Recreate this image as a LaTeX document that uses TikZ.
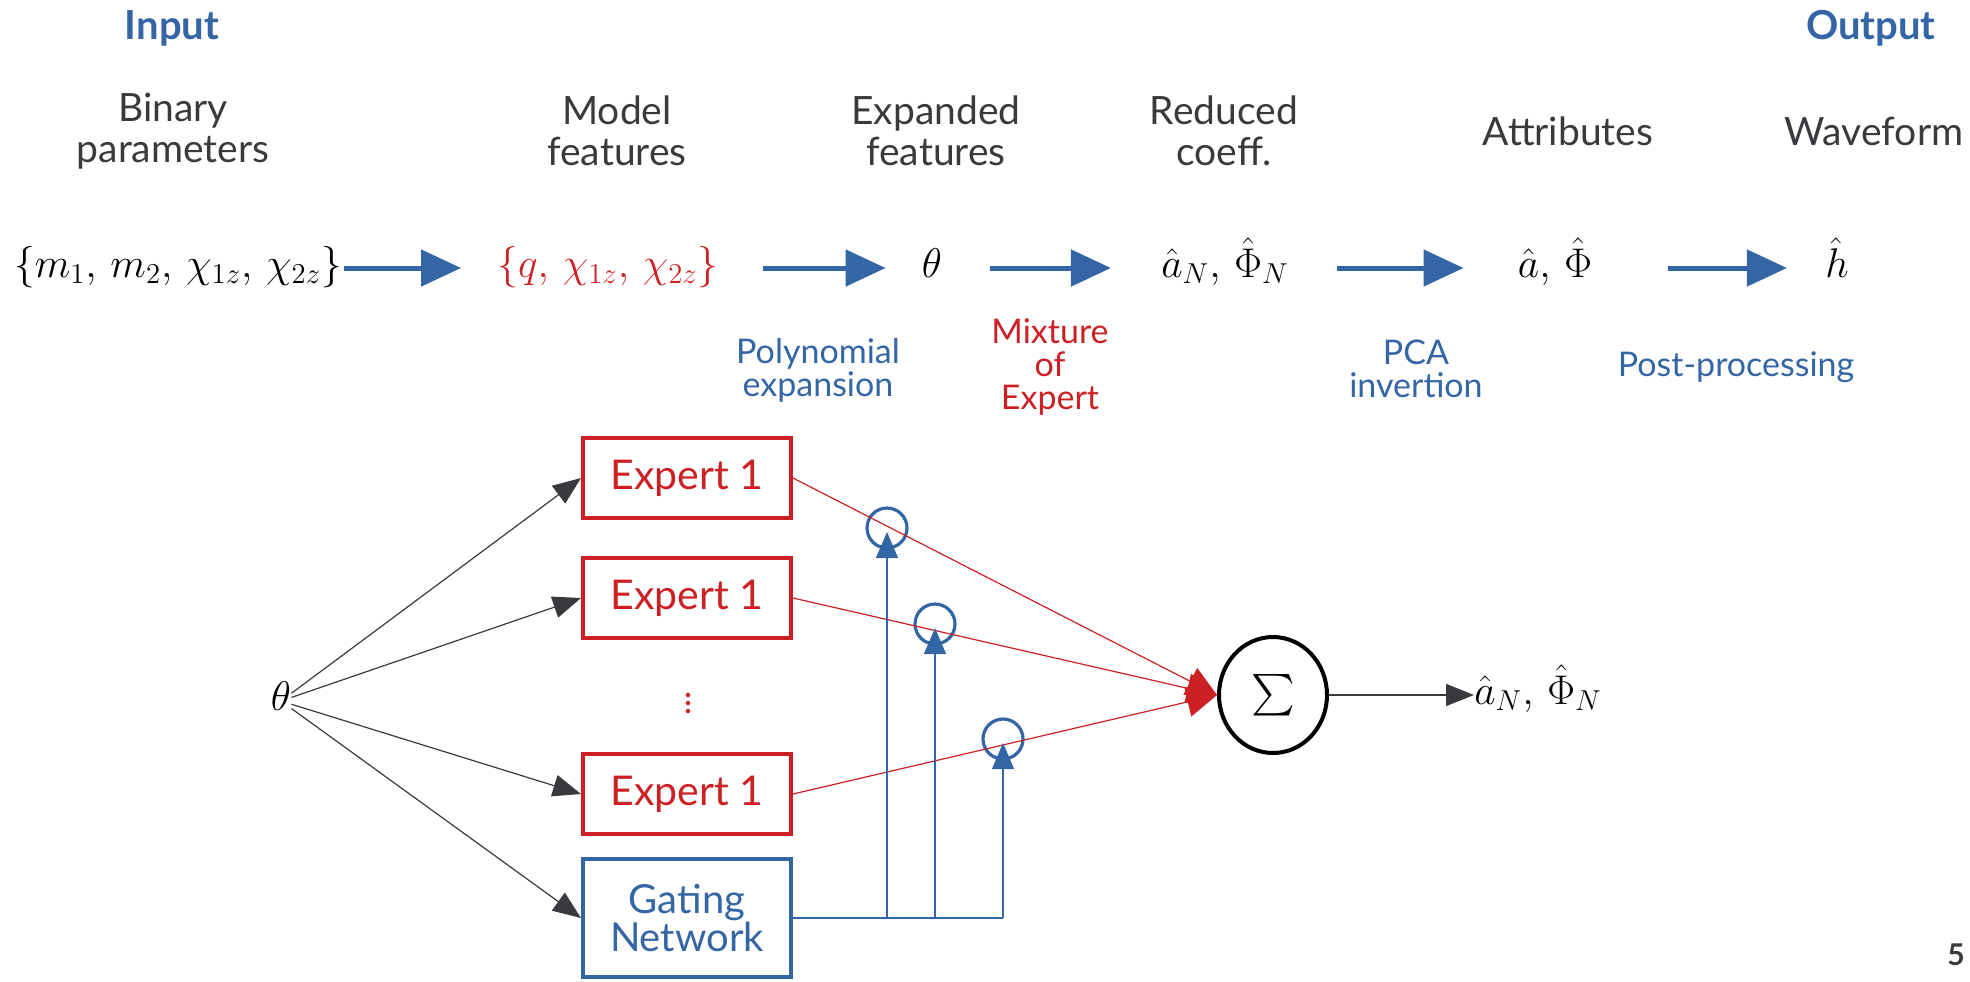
\documentclass[tikz,border=0pt]{standalone}
\usepackage{amsmath}
\usepackage{fontspec}
\setmainfont{Lato}
\usetikzlibrary{arrows.meta,shapes.geometric}
\definecolor{slideblue}{RGB}{52,101,164}
\definecolor{slidered}{RGB}{204,32,36}
\definecolor{slidegray}{RGB}{58,58,62}

\begin{document}
\begin{tikzpicture}[x=0.5pt,y=-0.5pt,
		head/.style={font=\fontsize{20}{22}\selectfont\bfseries, text=slideblue},
		title/.style={font=\fontsize{19.5}{20.5}\selectfont, text=slidegray, align=center},
		math/.style={font=\fontsize{21}{25}\selectfont, text height=15pt, text depth=6pt, inner sep=0pt},
		flow/.style={draw=slideblue, line width=2.5pt, -{Triangle[length=20pt,width=18pt]}},
		stage/.style={font=\fontsize{17}{16.5}\selectfont, text=slideblue, align=center},
		expertbox/.style={draw=slidered, line width=2pt, text=slidered, minimum width=104pt, minimum height=40pt, font=\fontsize{20.5}{22}\selectfont},
		feed/.style={draw=slidegray, line width=0.6pt, -{Triangle[length=14pt,width=11pt]}},
		mix/.style={draw=slidered, line width=0.6pt, -{Triangle[length=15pt,width=15pt]}},
		gateline/.style={draw=slideblue, line width=0.6pt},
		gatetip/.style={draw=slideblue, line width=0.6pt, -{Triangle[length=13pt,width=11pt]}},
		knob/.style={circle, draw=slideblue, line width=1.6pt, minimum size=20pt, inner sep=0pt}]
			%%%%% START %%%%%
			
			\useasboundingbox (0,0) rectangle (1970,981);
			
			\node[head] (input) at (172, 28) {Input};
			\node[head] (output) at (1871, 28) {Output};
			
			\node[title] (tbp) at (173, 131) {Binary\\parameters};
			\node[title] (tmf) at (617, 131) {Model\\features};
			\node[title] (tef) at (936, 131) {Expanded\\features};
			\node[title] (trc) at (1224, 131) {Reduced\\coeff.};
			\node[title] (tat) at (1568, 131) {Attributes};
			\node[title] (twf) at (1874, 131) {Waveform};
			
			\node[math] (bp) at (178, 268) {$\{m_1,\, m_2,\, \chi_{1z},\, \chi_{2z}\}$};
			\node[math, text=slidered] (mf) at (608, 268) {$\{q,\, \chi_{1z},\, \chi_{2z}\}$};
			\node[math] (ef) at (932, 268) {$\theta$};
			\node[math] (rc) at (1225, 268) {$\hat{a}_N,\, \hat{\Phi}_N$};
			\node[math] (at) at (1555, 268) {$\hat{a},\, \hat{\Phi}$};
			\node[math] (wf) at (1837, 268) {$\hat{h}$};
			
			\draw[flow, shorten <=1pt, shorten >=18pt] (bp) -- (mf);
			\draw[flow, shorten <=22pt, shorten >=18pt] (mf) -- (ef);
			\draw[flow, shorten <=24pt, shorten >=25pt] (ef) -- (rc);
			\draw[flow, shorten <=24pt, shorten >=27pt] (rc) -- (at);
			\draw[flow, shorten <=38pt, shorten >=19pt] (at) -- (wf);
			
			\node[stage] (poly) at (818, 370) {Polynomial\\expansion};
			\node[stage, text=slidered] (moe) at (1050, 367) {Mixture\\of\\Expert};
			\node[stage] (pca) at (1416, 369) {PCA\\invertion};
			\node[stage] (post) at (1736, 367) {Post-processing};
			
			% mixture of experts
			\node[math] (theta) at (281, 701) {$\theta$};
			
			\node[expertbox] (e1) at (687, 478) {Expert 1};
			\node[expertbox] (e2) at (687, 598) {Expert 1};
			\node[text=slidered, font=\fontsize{18}{20}\selectfont] (dots) at (688, 697) {$\vdots$};
			\node[expertbox] (e3) at (687, 794) {Expert 1};
			\node[expertbox, draw=slideblue, text=slideblue, minimum height=59pt, align=center, font=\fontsize{20}{19}\selectfont] (gate) at (687, 918) {Gating\\Network};
			
			\node[ellipse, draw=black, line width=2pt, minimum width=54pt, minimum height=58pt, inner sep=0pt, font=\fontsize{20}{24}\selectfont] (sum) at (1273, 695) {$\sum$};
			\node[math, anchor=west] (out) at (1474, 695) {$\hat{a}_N,\, \hat{\Phi}_N$};
			
			\node[knob] (k1) at (887, 528) {};
			\node[knob] (k2) at (935, 624) {};
			\node[knob] (k3) at (1003, 739) {};
			
			\draw[feed] (theta) -- (e1.west);
			\draw[feed] (theta) -- (e2.west);
			\draw[feed] (theta) -- (e3.west);
			\draw[feed] (theta) -- (gate.west);
			
			\draw[mix] (e1.east) -- (sum.west);
			\draw[mix] (e2.east) -- (sum.west);
			\draw[mix] (e3.east) -- (sum.west);
			
			\draw[gateline] (gate.east) -- (gate.east -| k3);
			\draw[gatetip] (gate.east -| k1) -- ([yshift=-2pt]k1.center);
			\draw[gatetip] (gate.east -| k2) -- ([yshift=-2pt]k2.center);
			\draw[gatetip] (gate.east -| k3) -- ([yshift=-2pt]k3.center);
			
			\draw[feed] (sum) -- (out);
			
			\node[font=\fontsize{15}{18}\selectfont\bfseries, text=slidegray] (page) at (1956, 955) {5};
			
			%%%%% END %%%%%
\end{tikzpicture}
\end{document}
